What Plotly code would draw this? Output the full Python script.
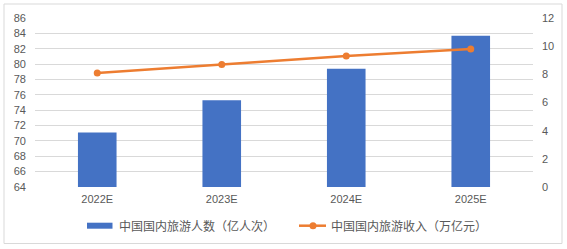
import plotly.graph_objects as go

categories = ["2022E", "2023E", "2024E", "2025E"]
visitors = [71.1, 75.3, 79.4, 83.7]      # 亿人次
revenue = [8.1, 8.7, 9.3, 9.8]           # 万亿元

bar_name = "中国国内旅游人数（亿人次）"
line_name = "中国国内旅游收入（万亿元）"

font_family = "Noto Sans CJK SC, Liberation Sans, Arial, sans-serif"
tick_font = "Liberation Sans, Arial, sans-serif"
tick_color = "#595959"
bar_color = "#4472C4"
line_color = "#ED7D31"

fig = go.Figure()
fig.add_trace(go.Bar(
    x=categories, y=visitors, name=bar_name,
    marker=dict(color=bar_color, line=dict(width=0)),
    width=0.31, yaxis="y", showlegend=False,
))
fig.add_trace(go.Scatter(
    x=categories, y=revenue, name=line_name, mode="lines+markers",
    line=dict(color=line_color, width=2.5),
    marker=dict(color=line_color, size=7),
    yaxis="y2", showlegend=False,
))

# plot area: x 35..533 px, y 18..187 px
def px_x(p):
    return (p - 35) / 498.0

def px_y(p):
    return (187 - p) / 169.0

shapes = [
    dict(type="rect", xref="paper", yref="paper",
         x0=px_x(4), x1=px_x(562), y0=px_y(243.5), y1=px_y(4),
         line=dict(color="#D9D9D9", width=1), fillcolor="rgba(0,0,0,0)", layer="below"),
    # legend: bar swatch
    dict(type="rect", xref="paper", yref="paper",
         x0=px_x(87), x1=px_x(112.5), y0=px_y(228.7), y1=px_y(222.7),
         line=dict(width=0), fillcolor=bar_color),
    # legend: line swatch
    dict(type="line", xref="paper", yref="paper",
         x0=px_x(299), x1=px_x(326), y0=px_y(225.7), y1=px_y(225.7),
         line=dict(color=line_color, width=2.5)),
    dict(type="circle", xref="paper", yref="paper",
         x0=px_x(309.5), x1=px_x(316.5), y0=px_y(229.2), y1=px_y(222.2),
         line=dict(width=0), fillcolor=line_color),
]

annotations = [
    dict(text=bar_name, xref="paper", yref="paper", x=px_x(116.5), y=px_y(225.7),
         xanchor="left", yanchor="middle", showarrow=False,
         font=dict(family=font_family, size=12, color=tick_color)),
    dict(text=line_name, xref="paper", yref="paper", x=px_x(329), y=px_y(225.7),
         xanchor="left", yanchor="middle", showarrow=False,
         font=dict(family=font_family, size=12, color=tick_color)),
]

fig.update_layout(
    width=567, height=249,
    margin=dict(l=35, r=34, t=18, b=62, autoexpand=False),
    paper_bgcolor="white", plot_bgcolor="white",
    font=dict(family=tick_font, size=11, color=tick_color),
    showlegend=False,
    xaxis=dict(type="category", showgrid=False, showline=False, zeroline=False,
               ticks="", ticklabelstandoff=4, tickfont=dict(size=11, color=tick_color)),
    yaxis=dict(range=[64, 86], dtick=2, tick0=64, showgrid=True, gridcolor="#D9D9D9",
               gridwidth=1, zeroline=False, showline=False, ticks="",
               ticklabelstandoff=8, tickfont=dict(size=11, color=tick_color)),
    yaxis2=dict(range=[0, 12], dtick=2, tick0=0, overlaying="y", side="right",
                showgrid=False, zeroline=False, showline=False, ticks="",
                ticklabelstandoff=8, tickfont=dict(size=11, color=tick_color)),
    shapes=shapes,
    annotations=annotations,
)

fig.write_html("out.html")
